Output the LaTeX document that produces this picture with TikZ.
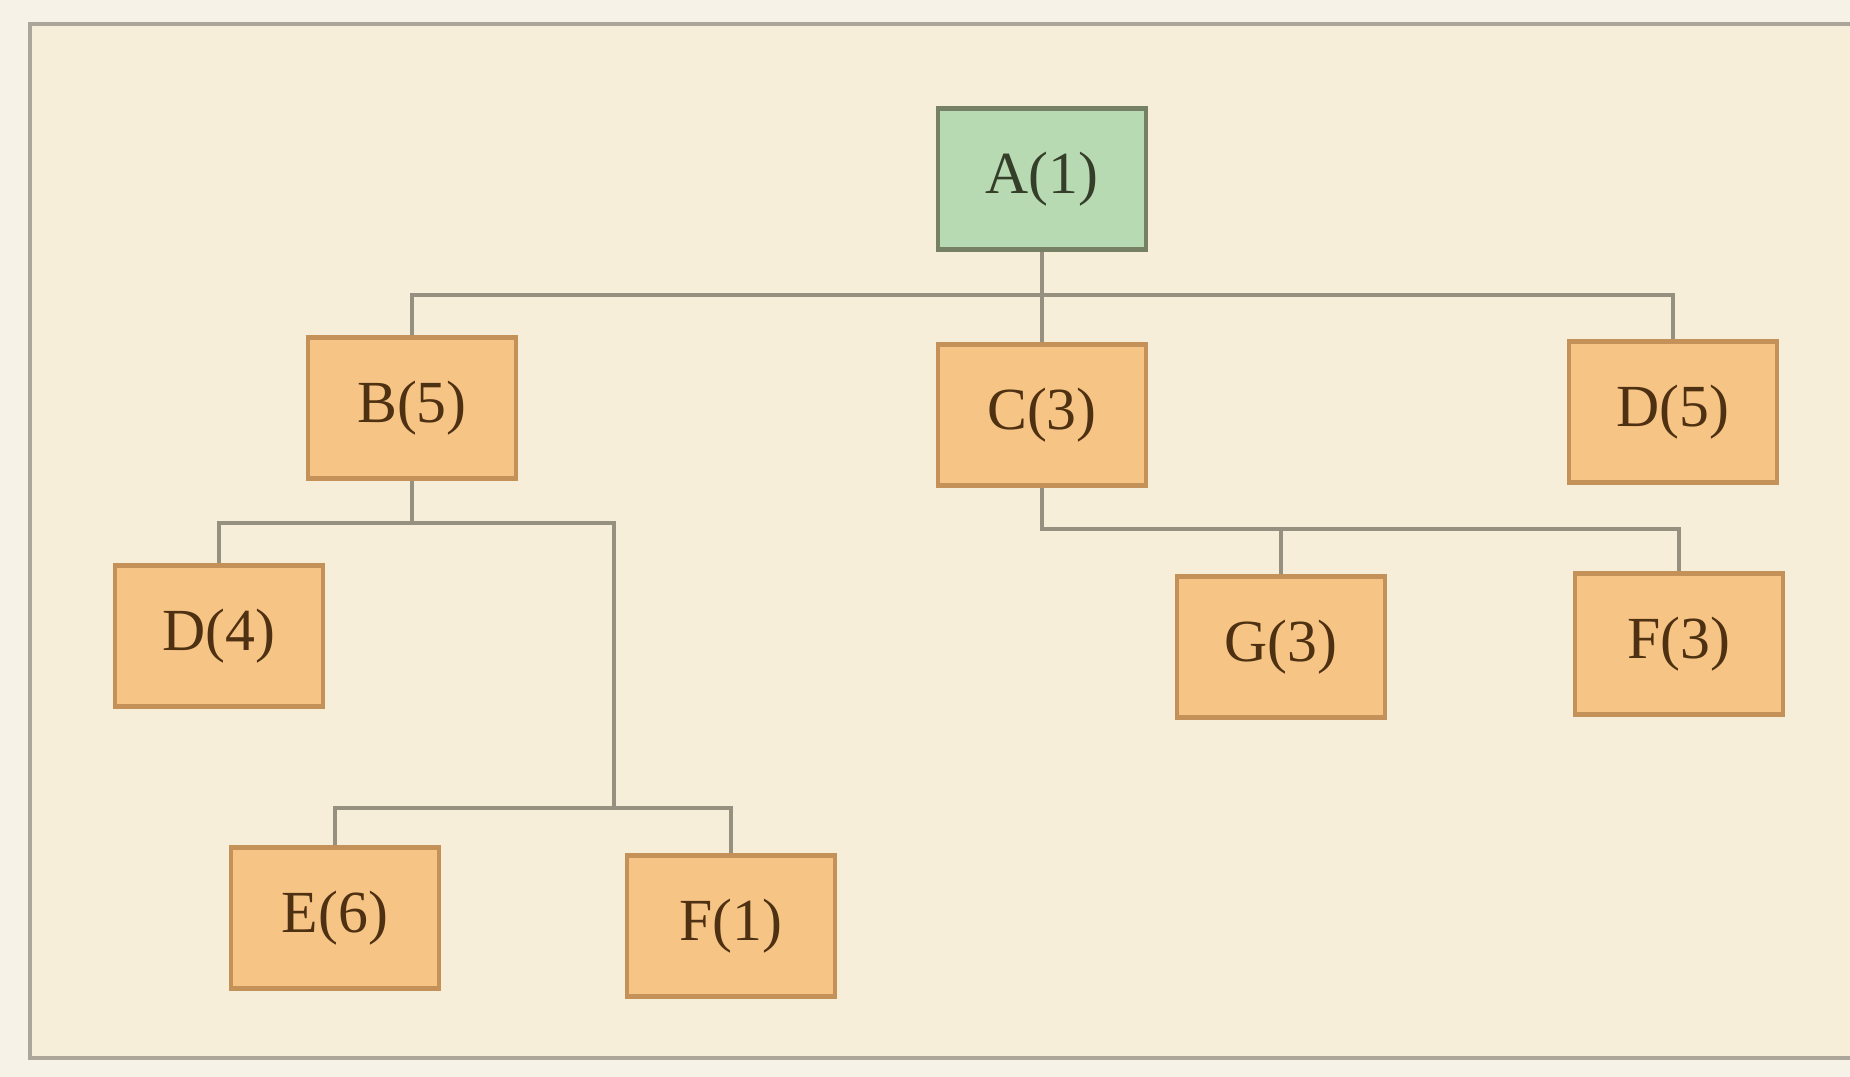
\documentclass[tikz,border=0pt]{standalone}
\usepackage{fontspec}
\setmainfont{Liberation Serif}
\definecolor{paper}{RGB}{246,242,232}
\definecolor{panel}{RGB}{247,238,218}
\definecolor{boxfill}{RGB}{246,196,132}
\definecolor{boxline}{RGB}{196,146,88}
\definecolor{boxtext}{RGB}{78,48,18}
\definecolor{rootfill}{RGB}{184,218,178}
\definecolor{rootline}{RGB}{118,128,100}
\definecolor{roottext}{RGB}{52,62,40}
\definecolor{wire}{RGB}{150,144,128}
\tikzset{
  item/.style={draw=boxline, fill=boxfill, text=boxtext, line width=1.2pt,
    minimum width=2.08cm, minimum height=1.41cm, font=\fontsize{17}{20}\selectfont},
  root/.style={item, draw=rootline, fill=rootfill, text=roottext},
  wire/.style={draw=wire, line width=1.1pt}
}
\begin{document}
\begin{tikzpicture}
\useasboundingbox (0,0) rectangle (18.5,10.77);
\fill[paper] (0,0) rectangle (18.5,10.77);
\draw[draw=wire!80, fill=panel, line width=1pt] (18.8,10.53) -- (0.30,10.53) -- (0.30,0.19) -- (18.8,0.19);

\node[root] (A) at (10.42,8.98) {A(1)};
\node[item] (B) at (4.12,6.69) {B(5)};
\node[item] (C) at (10.42,6.62) {C(3)};
\node[item] (D5) at (16.73,6.65) {D(5)};
\node[item] (D4) at (2.19,4.41) {D(4)};
\node[item] (G) at (12.81,4.30) {G(3)};
\node[item] (F3) at (16.79,4.33) {F(3)};
\node[item] (E6) at (3.35,1.59) {E(6)};
\node[item] (F1) at (7.31,1.51) {F(1)};

\coordinate (ab) at (10.42,7.82);
\coordinate (bb) at (4.12,5.54);
\coordinate (bj) at (6.14,2.69);
\coordinate (cb) at (10.42,5.48);

\draw[wire] (A.south) -- (ab) -| (B.north);
\draw[wire] (ab) -- (C.north);
\draw[wire] (ab) -| (D5.north);
\draw[wire] (B.south) -- (bb) -| (D4.north);
\draw[wire] (bb) -| (bj);
\draw[wire] (bj) -| (E6.north);
\draw[wire] (bj) -| (F1.north);
\draw[wire] (C.south) -- (cb) -| (G.north);
\draw[wire] (cb) -| (F3.north);
\end{tikzpicture}
\end{document}
